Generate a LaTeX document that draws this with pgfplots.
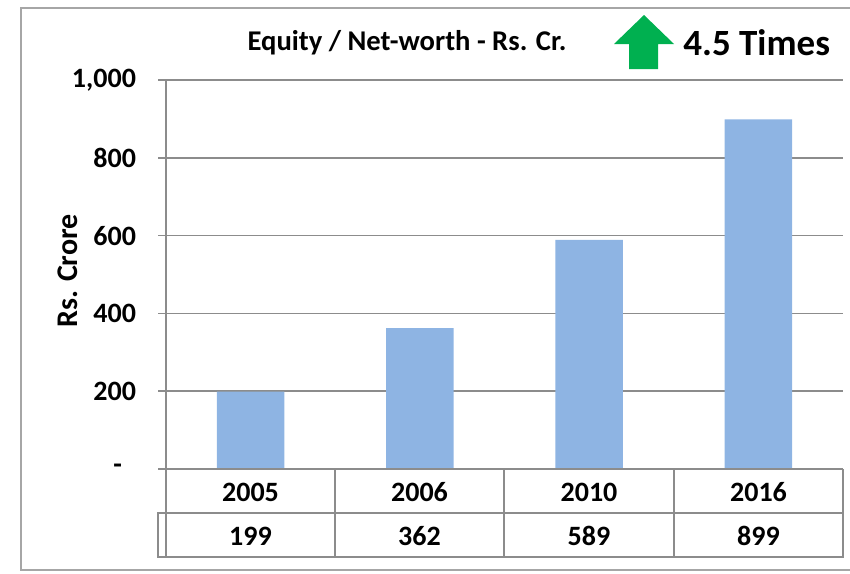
\documentclass[border=0pt]{standalone}
\usepackage{fontspec}
\setmainfont{Carlito}
\usepackage{pgfplots}
\usepackage{pgfplotstable}
\pgfplotsset{compat=1.18}
\definecolor{barblue}{HTML}{8EB4E3}
\definecolor{gridgray}{HTML}{8C8C8C}
\definecolor{framegray}{HTML}{A6A6A6}
\definecolor{arrowgreen}{HTML}{00B050}
\pgfplotstableread{
idx year value
0.5 2005 199
1.5 2006 362
2.5 2010 589
3.5 2016 899
}\datatable
\begin{document}
\begin{tikzpicture}[x=0.5pt,y=-0.5pt,font=\bfseries]
\useasboundingbox (0,0) rectangle (850,573);
\draw[framegray,line width=0.8pt] (850,8) -- (21,8) -- (21,570) -- (850,570);
\begin{axis}[
  at={(83pt,-234.5pt)}, anchor=south west,
  scale only axis, width=338.5pt, height=194.5pt,
  xmin=0, xmax=4, ymin=0, ymax=1000,
  axis x line=none,
  axis y line*=left,
  axis line style={gridgray,line width=0.8pt,-},
  ytick={0,200,400,600,800,1000},
  yticklabels={{-\kern7pt},200,400,600,800,{1,000}},
  yticklabel style={font=\fontsize{14}{16}\selectfont\bfseries, xshift=-7.5pt},
  ymajorgrids,
  grid style={gridgray,line width=0.8pt},
  tick align=outside,
  major tick length=4pt,
  tick style={gridgray,line width=0.8pt},
  xtick=\empty,
  ybar, bar width=0.4, bar shift=0pt,
  clip=false,
]
\addplot[fill=barblue,draw=none] table[x=idx,y=value]{\datatable};
\end{axis}
% data table
\begin{scope}[gridgray,line width=0.8pt]
\draw (158,469) -- (843,469);
\draw (166,513) -- (843,513);
\draw (158,513) rectangle (843,557);
\foreach \xx in {166,335,504,674,843} \draw (\xx,469) -- (\xx,557);
\end{scope}
\begin{scope}[font=\fontsize{14}{16}\selectfont\bfseries]
\node[anchor=base] at (250.5,501) {2005};
\node[anchor=base] at (419.5,501) {2006};
\node[anchor=base] at (589,501) {2010};
\node[anchor=base] at (758.5,501) {2016};
\node[anchor=base] at (250.5,545) {199};
\node[anchor=base] at (419.5,545) {362};
\node[anchor=base] at (589,545) {589};
\node[anchor=base] at (758.5,545) {899};
\end{scope}
% title
\node[anchor=base,font=\fontsize{14.3}{17}\selectfont\bfseries] at (407,50) {Equity / Net-worth - Rs. Cr.};
% arrow
\fill[arrowgreen] (644,15) -- (674,44) -- (658,44) -- (658,69) -- (629,69) -- (629,44) -- (614,44) -- cycle;
\node[anchor=base west,inner sep=0pt,font=\fontsize{18.5}{22}\selectfont\bfseries] at (683,55) {4.5 Times};
% y label
\node[rotate=90,font=\fontsize{15}{18}\selectfont\bfseries] at (68,271) {Rs. Crore};
\end{tikzpicture}
\end{document}
